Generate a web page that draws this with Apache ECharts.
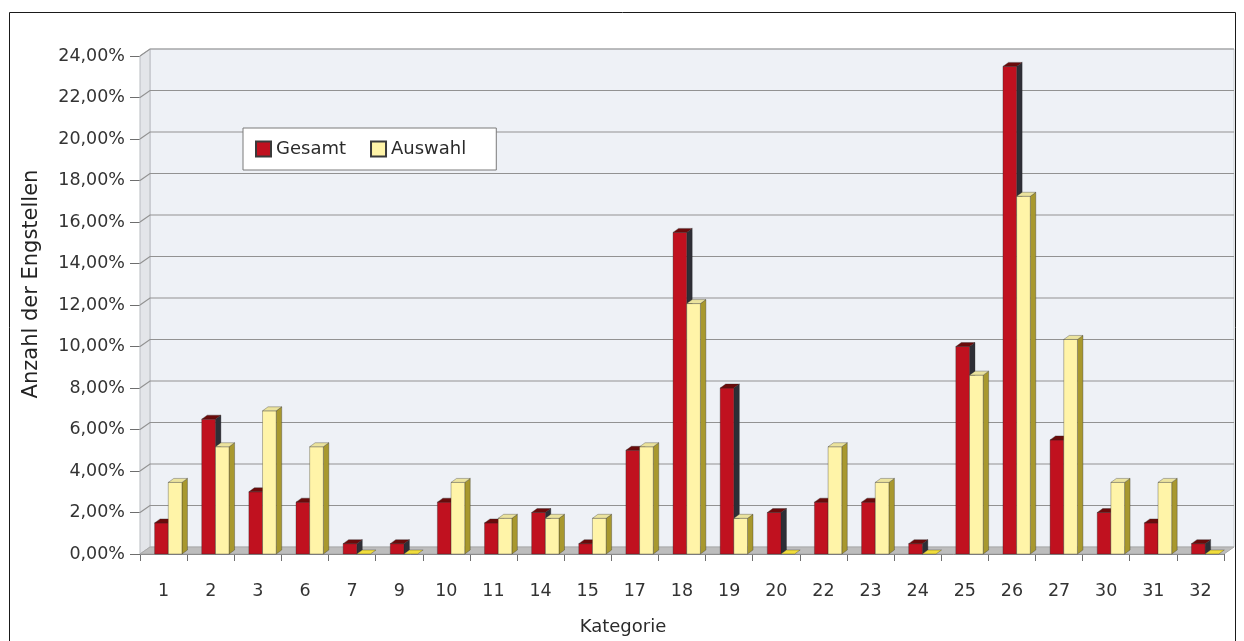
<!DOCTYPE html>
<html>
<head>
<meta charset="utf-8">
<title>Anzahl der Engstellen je Kategorie</title>
<script src="https://cdn.jsdelivr.net/npm/echarts@6/dist/echarts.min.js"></script>
<style>
  html, body { margin: 0; padding: 0; background: #fff; }
  #chart { width: 1244px; height: 641px; }
</style>
</head>
<body>
<div id="chart"></div>
<script>
// Kategorien und Anteile (in %)
const categories = ['1','2','3','6','7','9','10','11','14','15','17','18','19','20','22','23','24','25','26','27','30','31','32'];
const gesamt  = [1.5, 6.5, 3.0, 2.5, 0.5, 0.5, 2.5, 1.5, 2.0, 0.5, 5.0, 15.5, 8.0, 2.0, 2.5, 2.5, 0.5, 10.0, 23.5, 5.5, 2.0, 1.5, 0.5];
const auswahl = [3.45, 5.17, 6.90, 5.17, 0, 0, 3.45, 1.72, 1.72, 1.72, 5.17, 12.07, 1.72, 0, 5.17, 3.45, 0, 8.62, 17.24, 10.34, 3.45, 3.45, 0];
const yTicks  = [0, 2, 4, 6, 8, 10, 12, 14, 16, 18, 20, 22, 24];

const FONT = 'DejaVu Sans';
// depth of the back wall and of the bars (pseudo 3D)
const WALL_DX = 10, WALL_DY = -7;
const BAR_DX = 5.5, BAR_DY = -4;

const palette = [
  { front: '#c0111f', side: '#2e2e36', top: '#6a0b0b', flat: '#6a0b0b' },
  { front: '#fff4a8', side: '#a8982e', top: '#ebe39e', flat: '#f0dc3c' }
];

function renderWall(params, api) {
  const cs = params.coordSys;
  const x0 = cs.x, x1 = cs.x + cs.width;
  const yTop = cs.y, yBot = cs.y + cs.height;
  const y = api.coord([0, api.value(1)])[1];
  const children = [];
  if (params.dataIndex === 0) {
    children.push({
      type: 'polygon',
      shape: { points: [[x0 + WALL_DX, yBot + WALL_DY], [x1 + WALL_DX, yBot + WALL_DY], [x1 + WALL_DX, yTop + WALL_DY], [x0 + WALL_DX, yTop + WALL_DY]] },
      style: { fill: '#eef1f6', stroke: '#c9ccd1', lineWidth: 1 }
    });
    children.push({
      type: 'polygon',
      shape: { points: [[x0, yBot], [x0 + WALL_DX, yBot + WALL_DY], [x0 + WALL_DX, yTop + WALL_DY], [x0, yTop]] },
      style: { fill: '#e3e5e9', stroke: '#b9bcc1', lineWidth: 1 }
    });
    children.push({
      type: 'polygon',
      shape: { points: [[x0, yBot], [x1, yBot], [x1 + WALL_DX, yBot + WALL_DY], [x0 + WALL_DX, yBot + WALL_DY]] },
      style: { fill: '#bdbdbd', stroke: '#a9a9a9', lineWidth: 1 }
    });
  }
  if (params.dataIndex > 0) {
    children.push({
      type: 'polyline',
      shape: { points: [[x0, y], [x0 + WALL_DX, y + WALL_DY], [x1 + WALL_DX, y + WALL_DY]] },
      style: { stroke: '#929292', lineWidth: 1.2, fill: null }
    });
  }
  return { type: 'group', children };
}

function makeBarRenderer(s) {
  const col = palette[s];
  return function (params, api) {
    const idx = api.value(0), val = api.value(1);
    const top = api.coord([idx, val]);
    const base = api.coord([idx, 0]);
    const band = api.size([1, 0])[0];
    const w = band * 0.29;
    const x0 = top[0] - band * 0.19 + s * w;
    const yT = top[1], yB = base[1];
    const edge = { stroke: 'rgba(40,40,40,0.55)', lineWidth: 0.6 };
    const children = [];
    if (yB - yT > 0.5) {
      children.push({
        type: 'polygon',
        shape: { points: [[x0 + w, yT], [x0 + w + BAR_DX, yT + BAR_DY], [x0 + w + BAR_DX, yB + BAR_DY], [x0 + w, yB]] },
        style: Object.assign({ fill: col.side }, edge)
      });
      children.push({
        type: 'rect',
        shape: { x: x0, y: yT, width: w, height: yB - yT },
        style: Object.assign({ fill: col.front }, edge)
      });
    }
    children.push({
      type: 'polygon',
      shape: { points: [[x0, yT], [x0 + BAR_DX, yT + BAR_DY], [x0 + w + BAR_DX, yT + BAR_DY], [x0 + w, yT]] },
      style: Object.assign({ fill: val === 0 ? col.flat : col.top }, edge)
    });
    return { type: 'group', children };
  };
}

const chart = echarts.init(document.getElementById('chart'), null, { renderer: 'canvas' });

chart.setOption({
  backgroundColor: '#ffffff',
  animation: false,
  textStyle: { fontFamily: FONT },
  graphic: [{
    type: 'rect',
    shape: { x: 9.5, y: 12.5, width: 1226, height: 640 },
    style: { fill: null, stroke: '#1a1a1a', lineWidth: 1 },
    silent: true
  }],
  legend: {
    data: ['Gesamt', 'Auswahl'],
    left: 243,
    top: 128,
    orient: 'horizontal',
    icon: 'rect',
    itemWidth: 15,
    itemHeight: 15,
    itemGap: 24,
    padding: [12, 30, 12, 12],
    backgroundColor: '#ffffff',
    borderColor: '#7a7a7a',
    borderWidth: 1,
    textStyle: { fontFamily: FONT, fontSize: 18, color: '#2b2b2b' }
  },
  grid: { left: 140, right: 20, top: 56, bottom: 85 },
  xAxis: {
    type: 'category',
    data: categories,
    boundaryGap: true,
    name: 'Kategorie',
    nameLocation: 'middle',
    nameGap: 64,
    nameTextStyle: { fontFamily: FONT, fontSize: 18, color: '#2b2b2b', padding: [0, 118, 0, 0] },
    axisLine: { lineStyle: { color: '#6e6e6e', width: 1 } },
    axisTick: { show: true, interval: 0, length: 7, lineStyle: { color: '#6e6e6e' } },
    axisLabel: { interval: 0, margin: 28, fontFamily: FONT, fontSize: 17.5, color: '#333' },
    splitLine: { show: false }
  },
  yAxis: {
    type: 'value',
    min: 0,
    max: 24,
    interval: 2,
    name: 'Anzahl der Engstellen',
    nameLocation: 'middle',
    nameGap: 98,
    nameTextStyle: { fontFamily: FONT, fontSize: 21, color: '#222', padding: [0, 0, 0, 42] },
    axisLine: { show: true, lineStyle: { color: '#6e6e6e', width: 1 } },
    axisTick: { show: true, length: 10, lineStyle: { color: '#6e6e6e' } },
    axisLabel: {
      margin: 15,
      fontFamily: FONT,
      fontSize: 17.5,
      color: '#333',
      formatter: v => v.toFixed(2).replace('.', ',') + '%'
    },
    splitLine: { show: false }
  },
  series: [
    {
      type: 'custom',
      name: 'wall',
      z: 1,
      clip: false,
      silent: true,
      renderItem: renderWall,
      data: yTicks.map(v => [0, v])
    },
    {
      type: 'custom',
      name: 'Gesamt',
      z: 2,
      clip: false,
      itemStyle: { color: palette[0].front, borderColor: '#3a3a3a', borderWidth: 1 },
      renderItem: makeBarRenderer(0),
      data: gesamt.map((v, i) => [i, v])
    },
    {
      type: 'custom',
      name: 'Auswahl',
      z: 3,
      clip: false,
      itemStyle: { color: palette[1].front, borderColor: '#3a3a3a', borderWidth: 1 },
      renderItem: makeBarRenderer(1),
      data: auswahl.map((v, i) => [i, v])
    }
  ]
});
</script>
</body>
</html>
